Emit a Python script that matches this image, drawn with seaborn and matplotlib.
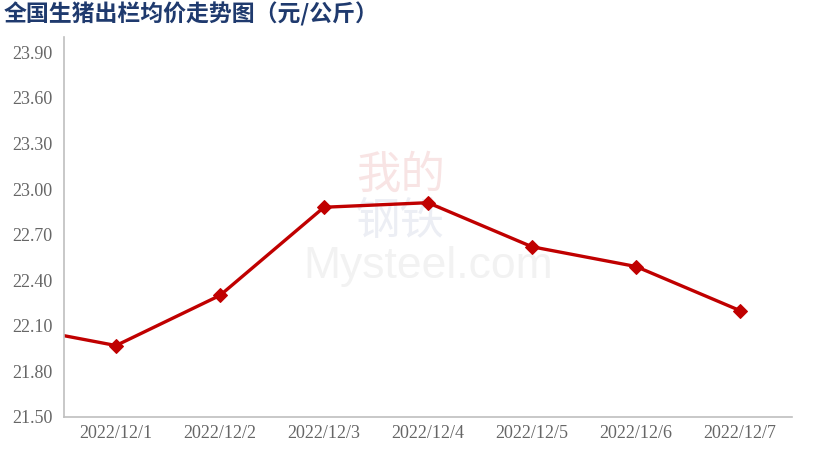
import numpy as np
import pandas as pd
import matplotlib
matplotlib.use("Agg")
import matplotlib.pyplot as plt
import seaborn as sns

# --- datos ---
fechas = ["2022/11/30", "2022/12/1", "2022/12/2", "2022/12/3", "2022/12/4",
          "2022/12/5", "2022/12/6", "2022/12/7"]
precios = [22.10, 21.97, 22.30, 22.88, 22.91, 22.62, 22.49, 22.20]
y_ticks = [21.50, 21.80, 22.10, 22.40, 22.70, 23.00, 23.30, 23.60, 23.90]
titulo = "全国生猪出栏均价走势图（元/公斤）"

df = pd.DataFrame({"fecha": fechas, "precio": precios})
df["pos"] = np.arange(len(df)) - 1  # primer punto queda fuera del eje

sns.set_style("white")
plt.rcParams["font.family"] = ["Liberation Serif", "DejaVu Serif"]

fig = plt.figure(figsize=(8.16, 4.63), dpi=100)
ax = fig.add_axes([0.0784, 0.0994, 0.8922, 0.8206])

sns.lineplot(data=df, x="pos", y="precio", ax=ax, color="#C00000",
             linewidth=2.4, marker="D", markersize=7, markeredgecolor="#C00000")

# marca de agua
ax.text(0.462, 0.637, "我的", transform=ax.transAxes, fontsize=32,
        family=["Noto Sans CJK SC"], color="#f8e4e4", ha="center", va="center", zorder=0)
ax.text(0.462, 0.515, "钢铁", transform=ax.transAxes, fontsize=32,
        family=["Noto Sans CJK SC"], color="#eceef4", ha="center", va="center", zorder=0)
ax.text(0.50, 0.395, "Mysteel.com", transform=ax.transAxes, fontsize=32,
        family=["Liberation Sans"], color="#f2f2f2", ha="center", va="center", zorder=0)

ax.set_xlim(-0.5, 6.5)
ax.set_ylim(21.5, 24.0)
ax.set_yticks(y_ticks)
ax.set_yticklabels([f"{v:.2f}" for v in y_ticks])
ax.set_xticks(range(7))
ax.set_xticklabels(fechas[1:])
ax.set_xticks(np.arange(-0.5, 7.0, 1.0), minor=True)
ax.tick_params(axis="x", which="major", length=0, pad=6, labelsize=13, labelcolor="#666666")
ax.tick_params(axis="x", which="minor", length=6, color="#a6a6a6", width=1, direction="out")
ax.tick_params(axis="y", length=5, color="#a6a6a6", width=1, labelsize=13, labelcolor="#666666", pad=3)
ax.set_xlabel("")
ax.set_ylabel("")

for s in ["top", "right"]:
    ax.spines[s].set_visible(False)
for s in ["left", "bottom"]:
    ax.spines[s].set_color("#bfbfbf")
    ax.spines[s].set_linewidth(1.2)

fig.text(0.004, 0.968, titulo, fontsize=16.5, fontweight="bold", color="#1F3A6E",
         family=["Noto Sans CJK SC", "DejaVu Sans"], ha="left", va="center")

fig.savefig("out.png", dpi=100)
